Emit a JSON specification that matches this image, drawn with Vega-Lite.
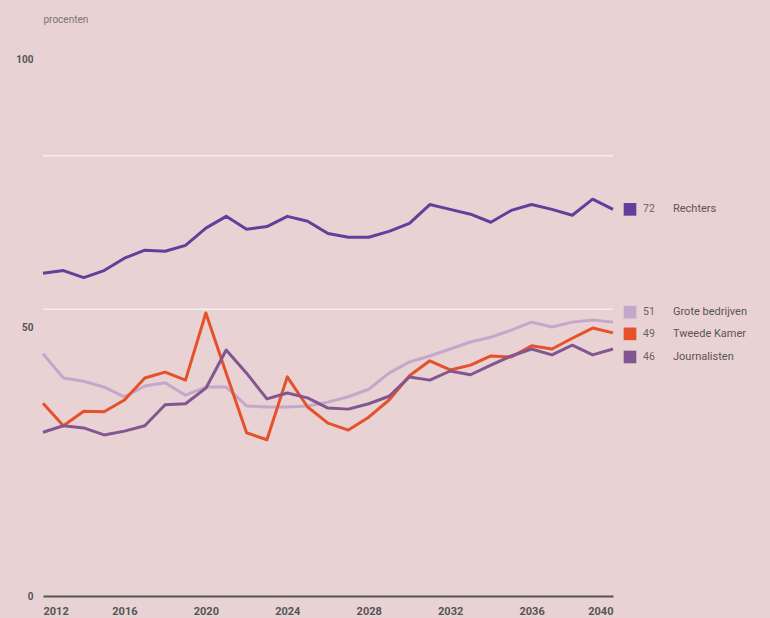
{
  "$schema": "https://vega.github.io/schema/vega-lite/v6.json",
  "width": 570,
  "height": 537,
  "autosize": {"type": "none"},
  "padding": {"left": 43, "top": 59, "right": 157, "bottom": 22},
  "background": "#e9d2d3",
  "config": {
    "view": {"stroke": null},
    "font": "Roboto",
    "axis": {"grid": false, "ticks": false, "labelColor": "#555555", "labelFont": "Roboto", "labelFontWeight": "bold", "labelFontSize": 11}
  },
  "datasets": {
    "reeksen": [
      {"jaar": 2012, "groep": "Rechters", "pct": 60.1},
      {"jaar": 2013, "groep": "Rechters", "pct": 60.6},
      {"jaar": 2014, "groep": "Rechters", "pct": 59.3},
      {"jaar": 2015, "groep": "Rechters", "pct": 60.6},
      {"jaar": 2016, "groep": "Rechters", "pct": 62.9},
      {"jaar": 2017, "groep": "Rechters", "pct": 64.4},
      {"jaar": 2018, "groep": "Rechters", "pct": 64.2},
      {"jaar": 2019, "groep": "Rechters", "pct": 65.3},
      {"jaar": 2020, "groep": "Rechters", "pct": 68.5},
      {"jaar": 2021, "groep": "Rechters", "pct": 70.7},
      {"jaar": 2022, "groep": "Rechters", "pct": 68.3},
      {"jaar": 2023, "groep": "Rechters", "pct": 68.8},
      {"jaar": 2024, "groep": "Rechters", "pct": 70.7},
      {"jaar": 2025, "groep": "Rechters", "pct": 69.8},
      {"jaar": 2026, "groep": "Rechters", "pct": 67.5},
      {"jaar": 2027, "groep": "Rechters", "pct": 66.8},
      {"jaar": 2028, "groep": "Rechters", "pct": 66.8},
      {"jaar": 2029, "groep": "Rechters", "pct": 67.9},
      {"jaar": 2030, "groep": "Rechters", "pct": 69.4},
      {"jaar": 2031, "groep": "Rechters", "pct": 72.9},
      {"jaar": 2032, "groep": "Rechters", "pct": 72.0},
      {"jaar": 2033, "groep": "Rechters", "pct": 71.1},
      {"jaar": 2034, "groep": "Rechters", "pct": 69.6},
      {"jaar": 2035, "groep": "Rechters", "pct": 71.8},
      {"jaar": 2036, "groep": "Rechters", "pct": 72.9},
      {"jaar": 2037, "groep": "Rechters", "pct": 72.0},
      {"jaar": 2038, "groep": "Rechters", "pct": 70.9},
      {"jaar": 2039, "groep": "Rechters", "pct": 73.9},
      {"jaar": 2040, "groep": "Rechters", "pct": 72},

      {"jaar": 2012, "groep": "Grote bedrijven", "pct": 45.1},
      {"jaar": 2013, "groep": "Grote bedrijven", "pct": 40.6},
      {"jaar": 2014, "groep": "Grote bedrijven", "pct": 40.0},
      {"jaar": 2015, "groep": "Grote bedrijven", "pct": 38.9},
      {"jaar": 2016, "groep": "Grote bedrijven", "pct": 37.1},
      {"jaar": 2017, "groep": "Grote bedrijven", "pct": 39.1},
      {"jaar": 2018, "groep": "Grote bedrijven", "pct": 39.7},
      {"jaar": 2019, "groep": "Grote bedrijven", "pct": 37.4},
      {"jaar": 2020, "groep": "Grote bedrijven", "pct": 38.9},
      {"jaar": 2021, "groep": "Grote bedrijven", "pct": 38.9},
      {"jaar": 2022, "groep": "Grote bedrijven", "pct": 35.4},
      {"jaar": 2023, "groep": "Grote bedrijven", "pct": 35.2},
      {"jaar": 2024, "groep": "Grote bedrijven", "pct": 35.2},
      {"jaar": 2025, "groep": "Grote bedrijven", "pct": 35.4},
      {"jaar": 2026, "groep": "Grote bedrijven", "pct": 36.1},
      {"jaar": 2027, "groep": "Grote bedrijven", "pct": 37.1},
      {"jaar": 2028, "groep": "Grote bedrijven", "pct": 38.5},
      {"jaar": 2029, "groep": "Grote bedrijven", "pct": 41.5},
      {"jaar": 2030, "groep": "Grote bedrijven", "pct": 43.6},
      {"jaar": 2031, "groep": "Grote bedrijven", "pct": 44.7},
      {"jaar": 2032, "groep": "Grote bedrijven", "pct": 46.0},
      {"jaar": 2033, "groep": "Grote bedrijven", "pct": 47.3},
      {"jaar": 2034, "groep": "Grote bedrijven", "pct": 48.2},
      {"jaar": 2035, "groep": "Grote bedrijven", "pct": 49.5},
      {"jaar": 2036, "groep": "Grote bedrijven", "pct": 51.0},
      {"jaar": 2037, "groep": "Grote bedrijven", "pct": 50.1},
      {"jaar": 2038, "groep": "Grote bedrijven", "pct": 51.0},
      {"jaar": 2039, "groep": "Grote bedrijven", "pct": 51.4},
      {"jaar": 2040, "groep": "Grote bedrijven", "pct": 51},

      {"jaar": 2012, "groep": "Tweede Kamer", "pct": 35.9},
      {"jaar": 2013, "groep": "Tweede Kamer", "pct": 31.7},
      {"jaar": 2014, "groep": "Tweede Kamer", "pct": 34.4},
      {"jaar": 2015, "groep": "Tweede Kamer", "pct": 34.3},
      {"jaar": 2016, "groep": "Tweede Kamer", "pct": 36.5},
      {"jaar": 2017, "groep": "Tweede Kamer", "pct": 40.6},
      {"jaar": 2018, "groep": "Tweede Kamer", "pct": 41.7},
      {"jaar": 2019, "groep": "Tweede Kamer", "pct": 40.2},
      {"jaar": 2020, "groep": "Tweede Kamer", "pct": 52.7},
      {"jaar": 2021, "groep": "Tweede Kamer", "pct": 41.5},
      {"jaar": 2022, "groep": "Tweede Kamer", "pct": 30.4},
      {"jaar": 2023, "groep": "Tweede Kamer", "pct": 29.1},
      {"jaar": 2024, "groep": "Tweede Kamer", "pct": 40.8},
      {"jaar": 2025, "groep": "Tweede Kamer", "pct": 35.2},
      {"jaar": 2026, "groep": "Tweede Kamer", "pct": 32.2},
      {"jaar": 2027, "groep": "Tweede Kamer", "pct": 30.9},
      {"jaar": 2028, "groep": "Tweede Kamer", "pct": 33.3},
      {"jaar": 2029, "groep": "Tweede Kamer", "pct": 36.5},
      {"jaar": 2030, "groep": "Tweede Kamer", "pct": 41.0},
      {"jaar": 2031, "groep": "Tweede Kamer", "pct": 43.8},
      {"jaar": 2032, "groep": "Tweede Kamer", "pct": 42.1},
      {"jaar": 2033, "groep": "Tweede Kamer", "pct": 43.0},
      {"jaar": 2034, "groep": "Tweede Kamer", "pct": 44.7},
      {"jaar": 2035, "groep": "Tweede Kamer", "pct": 44.5},
      {"jaar": 2036, "groep": "Tweede Kamer", "pct": 46.6},
      {"jaar": 2037, "groep": "Tweede Kamer", "pct": 46.0},
      {"jaar": 2038, "groep": "Tweede Kamer", "pct": 48.0},
      {"jaar": 2039, "groep": "Tweede Kamer", "pct": 49.9},
      {"jaar": 2040, "groep": "Tweede Kamer", "pct": 49},

      {"jaar": 2012, "groep": "Journalisten", "pct": 30.5},
      {"jaar": 2013, "groep": "Journalisten", "pct": 31.7},
      {"jaar": 2014, "groep": "Journalisten", "pct": 31.3},
      {"jaar": 2015, "groep": "Journalisten", "pct": 30.0},
      {"jaar": 2016, "groep": "Journalisten", "pct": 30.7},
      {"jaar": 2017, "groep": "Journalisten", "pct": 31.7},
      {"jaar": 2018, "groep": "Journalisten", "pct": 35.6},
      {"jaar": 2019, "groep": "Journalisten", "pct": 35.8},
      {"jaar": 2020, "groep": "Journalisten", "pct": 38.7},
      {"jaar": 2021, "groep": "Journalisten", "pct": 45.8},
      {"jaar": 2022, "groep": "Journalisten", "pct": 41.5},
      {"jaar": 2023, "groep": "Journalisten", "pct": 36.7},
      {"jaar": 2024, "groep": "Journalisten", "pct": 37.8},
      {"jaar": 2025, "groep": "Journalisten", "pct": 36.9},
      {"jaar": 2026, "groep": "Journalisten", "pct": 35.0},
      {"jaar": 2027, "groep": "Journalisten", "pct": 34.8},
      {"jaar": 2028, "groep": "Journalisten", "pct": 35.8},
      {"jaar": 2029, "groep": "Journalisten", "pct": 37.2},
      {"jaar": 2030, "groep": "Journalisten", "pct": 40.8},
      {"jaar": 2031, "groep": "Journalisten", "pct": 40.2},
      {"jaar": 2032, "groep": "Journalisten", "pct": 41.9},
      {"jaar": 2033, "groep": "Journalisten", "pct": 41.2},
      {"jaar": 2034, "groep": "Journalisten", "pct": 43.0},
      {"jaar": 2035, "groep": "Journalisten", "pct": 44.7},
      {"jaar": 2036, "groep": "Journalisten", "pct": 46.0},
      {"jaar": 2037, "groep": "Journalisten", "pct": 44.9},
      {"jaar": 2038, "groep": "Journalisten", "pct": 46.7},
      {"jaar": 2039, "groep": "Journalisten", "pct": 44.9},
      {"jaar": 2040, "groep": "Journalisten", "pct": 46}
    ],
    "hulplijnen": [{"niveau": 53.4}, {"niveau": 82}]
  },
  "layer": [
    {
      "data": {"name": "hulplijnen"},
      "mark": {"type": "rule", "color": "#f6eeee", "strokeWidth": 1.5},
      "encoding": {
        "y": {"field": "niveau", "type": "quantitative", "scale": {"domain": [0, 100]}}
      }
    },
    {
      "data": {"name": "reeksen"},
      "mark": {"type": "line", "strokeWidth": 3, "strokeJoin": "round"},
      "encoding": {
        "x": {
          "field": "jaar", "type": "quantitative",
          "scale": {"domain": [2012, 2040], "nice": false, "zero": false},
          "axis": {
            "title": null,
            "values": [2012, 2016, 2020, 2024, 2028, 2032, 2036, 2040],
            "format": "d",
            "domainColor": "#555555",
            "domainWidth": 2,
            "labelPadding": 9,
            "labelFlush": false,
            "labelAlign": {"expr": "datum.value == 2012 ? 'left' : datum.value == 2040 ? 'right' : 'center'"}
          }
        },
        "y": {
          "field": "pct", "type": "quantitative",
          "scale": {"domain": [0, 100], "nice": false},
          "axis": {
            "values": [0, 50, 100],
            "domain": false,
            "labelPadding": 10,
            "labelFontSize": 10,
            "title": "procenten",
            "titleAngle": 0,
            "titleAlign": "left",
            "titleBaseline": "middle",
            "titleX": 0,
            "titleY": -40,
            "titleFont": "Roboto",
            "titleFontWeight": "normal",
            "titleFontSize": 10,
            "titleColor": "#7a7474"
          }
        },
        "color": {
          "field": "groep", "type": "nominal",
          "scale": {
            "domain": ["Rechters", "Grote bedrijven", "Tweede Kamer", "Journalisten"],
            "range": ["#613f9b", "#c4a8cb", "#e4512a", "#83568f"]
          },
          "legend": null
        }
      }
    },
    {
      "data": {"name": "reeksen"},
      "transform": [{"filter": "datum.jaar == 2040"}],
      "mark": {"type": "square", "size": 160, "filled": true, "opacity": 1, "xOffset": 17,
               "yOffset": {"expr": "datum.groep == 'Grote bedrijven' ? -10 : datum.groep == 'Tweede Kamer' ? 1 : datum.groep == 'Journalisten' ? 8 : 0"}},
      "encoding": {
        "x": {"field": "jaar", "type": "quantitative"},
        "y": {"field": "pct", "type": "quantitative"},
        "color": {
          "field": "groep", "type": "nominal",
          "scale": {
            "domain": ["Rechters", "Grote bedrijven", "Tweede Kamer", "Journalisten"],
            "range": ["#6a3db0", "#c7abd2", "#e85024", "#8e5aa8"]
          },
          "legend": null
        }
      }
    },
    {
      "data": {"name": "reeksen"},
      "transform": [{"filter": "datum.jaar == 2040"}],
      "mark": {"type": "text", "align": "left", "baseline": "middle", "font": "Roboto", "fontSize": 10.5, "color": "#6a6464", "dx": 30,
               "dy": {"expr": "datum.groep == 'Grote bedrijven' ? -10 : datum.groep == 'Tweede Kamer' ? 1 : datum.groep == 'Journalisten' ? 8 : 0"}},
      "encoding": {
        "x": {"field": "jaar", "type": "quantitative"},
        "y": {"field": "pct", "type": "quantitative"},
        "text": {"field": "pct", "type": "quantitative", "format": "d"}
      }
    },
    {
      "data": {"name": "reeksen"},
      "transform": [{"filter": "datum.jaar == 2040"}],
      "mark": {"type": "text", "align": "left", "baseline": "middle", "font": "Roboto", "fontSize": 11, "color": "#5a5454", "dx": 60,
               "dy": {"expr": "datum.groep == 'Grote bedrijven' ? -10 : datum.groep == 'Tweede Kamer' ? 1 : datum.groep == 'Journalisten' ? 8 : 0"}},
      "encoding": {
        "x": {"field": "jaar", "type": "quantitative"},
        "y": {"field": "pct", "type": "quantitative"},
        "text": {"field": "groep", "type": "nominal"}
      }
    }
  ]
}
